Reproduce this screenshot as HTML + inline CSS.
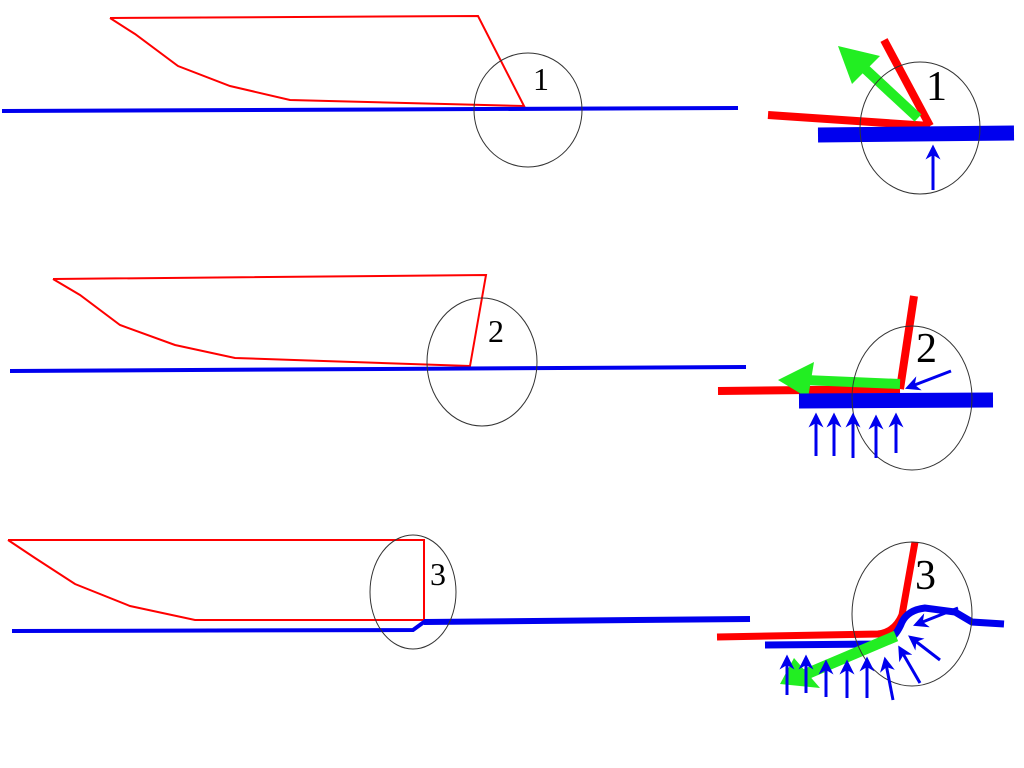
<!DOCTYPE html>
<html><head><style>html,body{margin:0;padding:0;background:#fff}svg{display:block}</style></head><body>
<svg width="1024" height="768" xmlns="http://www.w3.org/2000/svg" font-family="Liberation Serif, serif">
<defs>
<marker id="bh" markerWidth="5" markerHeight="5" refX="2.5" refY="2.5" orient="auto" markerUnits="strokeWidth"><path d="M0,0 L5,2.5 L0,5 L1.5,2.5Z" fill="#0000ee"/></marker>
</defs>
<!-- Panel 1 -->
<polyline points="110,18 478,16 524,106 290,100 230,86 178,66 135,34 110,18" fill="none" stroke="#f00" stroke-width="2"/>
<line x1="2" y1="111" x2="738" y2="108" stroke="#0000ee" stroke-width="4"/>
<ellipse cx="528" cy="110" rx="54" ry="57" fill="none" stroke="#333" stroke-width="1"/>
<text x="533" y="90" font-size="32">1</text>
<line x1="768" y1="115" x2="930" y2="126" stroke="#f00" stroke-width="8"/>
<line x1="884" y1="40" x2="930" y2="126" stroke="#f00" stroke-width="8"/>
<line x1="918" y1="118" x2="862" y2="66" stroke="#22ee22" stroke-width="10"/>
<polygon points="838,46 880,56 852,84" fill="#22ee22"/>
<line x1="818" y1="135" x2="1014" y2="133" stroke="#0000ee" stroke-width="15"/>
<ellipse cx="920" cy="128" rx="60" ry="66" fill="none" stroke="#333" stroke-width="1"/>
<text x="926" y="100" font-size="42">1</text>
<line x1="933" y1="190" x2="933" y2="152" stroke="#0000ee" stroke-width="3" marker-end="url(#bh)"/>
<!-- Panel 2 -->
<polyline points="53,279 486,275 470,366 235,358 175,345 120,325 80,295 53,279" fill="none" stroke="#f00" stroke-width="2"/>
<line x1="10" y1="371" x2="746" y2="367" stroke="#0000ee" stroke-width="4"/>
<ellipse cx="482" cy="362" rx="55" ry="64" fill="none" stroke="#333" stroke-width="1"/>
<text x="488" y="342" font-size="32">2</text>
<line x1="718" y1="391" x2="900" y2="389" stroke="#f00" stroke-width="8"/>
<line x1="914" y1="296" x2="900" y2="389" stroke="#f00" stroke-width="8"/>
<line x1="900" y1="384" x2="805" y2="380" stroke="#22ee22" stroke-width="10"/>
<polygon points="778,380 814,362 808,398" fill="#22ee22"/>
<line x1="799" y1="401" x2="993" y2="400" stroke="#0000ee" stroke-width="15"/>
<ellipse cx="912" cy="398" rx="60" ry="72" fill="none" stroke="#333" stroke-width="1"/>
<text x="916" y="362" font-size="42">2</text>
<line x1="951" y1="371" x2="912" y2="386" stroke="#0000ee" stroke-width="3" marker-end="url(#bh)"/>
<g stroke="#0000ee" stroke-width="3" marker-end="url(#bh)">
<line x1="816" y1="456" x2="816" y2="420"/><line x1="834" y1="456" x2="834" y2="420"/><line x1="853" y1="458" x2="853" y2="420"/><line x1="876" y1="458" x2="876" y2="422"/><line x1="896" y1="453" x2="896" y2="420"/>
</g>
<!-- Panel 3 -->
<polyline points="8,540 424,540 424,620 195,620 130,606 75,584 35,558 8,540" fill="none" stroke="#f00" stroke-width="2"/>
<polyline points="12,631 413,630 424,622 750,619" fill="none" stroke="#0000ee" stroke-width="4"/>
<line x1="424" y1="622" x2="750" y2="619" stroke="#0000ee" stroke-width="6"/>
<ellipse cx="413" cy="592" rx="43" ry="57" fill="none" stroke="#333" stroke-width="1"/>
<text x="430" y="585" font-size="32">3</text>
<path d="M717,637 L878,634 Q895,632 902,615 L915,542" fill="none" stroke="#f00" stroke-width="7"/>
<path d="M765,645 L880,644 Q895,640 902,622 Q908,610 925,608 L955,612 L972,622 L1004,624" fill="none" stroke="#0000ee" stroke-width="7"/>
<line x1="896" y1="636" x2="804" y2="675" stroke="#22ee22" stroke-width="11"/>
<polygon points="780,684 794,658 820,688" fill="#22ee22"/>
<ellipse cx="912" cy="614" rx="60" ry="72" fill="none" stroke="#333" stroke-width="1"/>
<text x="915" y="589" font-size="42">3</text>
<g stroke="#0000ee" stroke-width="3" marker-end="url(#bh)">
<line x1="787" y1="695" x2="787" y2="662"/><line x1="806" y1="693" x2="806" y2="662"/><line x1="826" y1="697" x2="826" y2="667"/><line x1="847" y1="698" x2="847" y2="667"/><line x1="867" y1="698" x2="867" y2="664"/><line x1="893" y1="700" x2="886" y2="664"/><line x1="920" y1="683" x2="902" y2="652"/><line x1="940" y1="660" x2="914" y2="640"/><line x1="958" y1="608" x2="920" y2="623"/>
</g>
</svg>
</body></html>
